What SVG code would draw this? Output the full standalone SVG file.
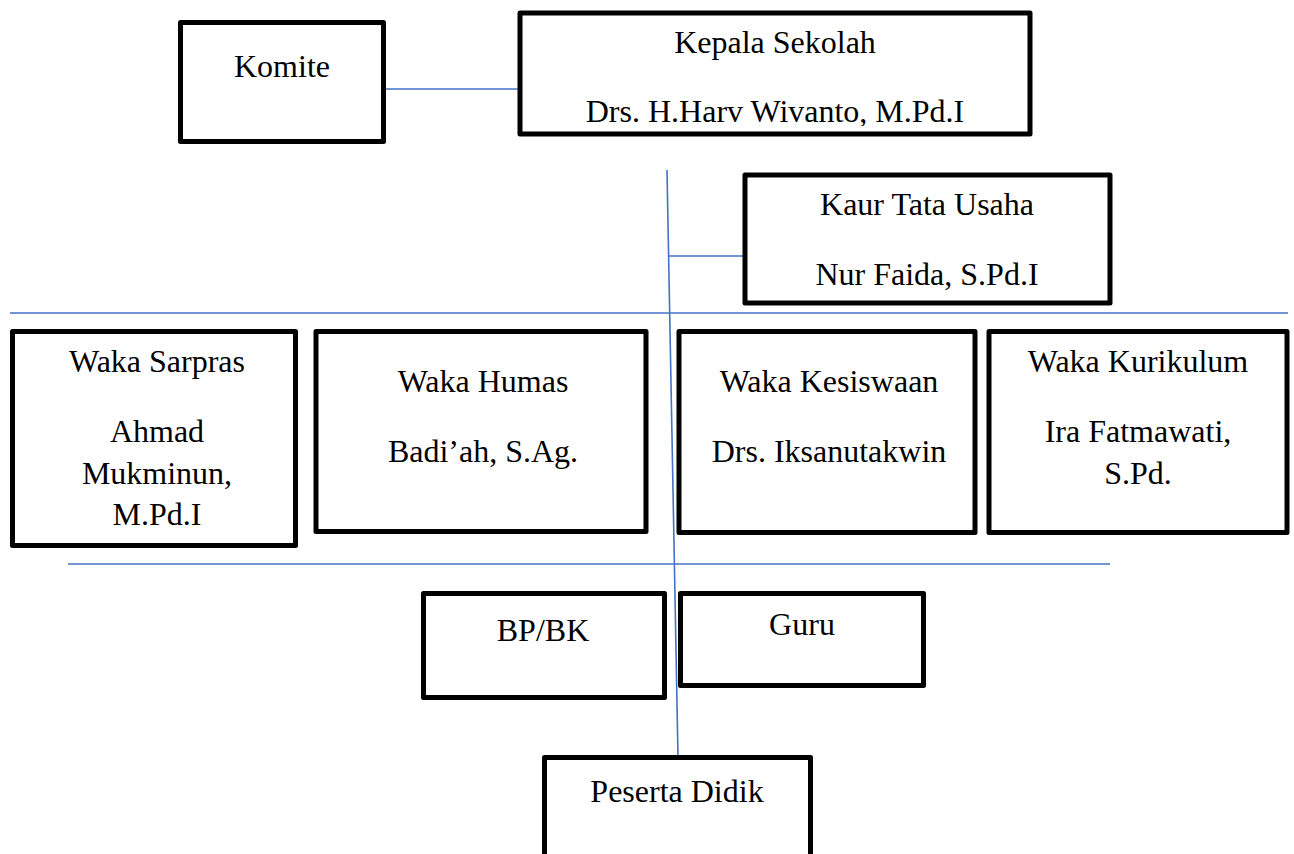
<svg xmlns="http://www.w3.org/2000/svg" width="1294" height="854" viewBox="0 0 1294 854">
<style>
.box{fill:#fff;stroke:#000;stroke-width:5;stroke-linejoin:round}
.t{font-family:"Liberation Serif","Times New Roman",serif;font-size:32px;fill:#000;text-anchor:middle}
.c{stroke:#4472C4;stroke-width:1.6;fill:none}
</style>
<defs>
<clipPath id="kclip"><rect x="522" y="15" width="506" height="111"/></clipPath>
</defs>
<rect width="1294" height="854" fill="#fff"/>
<g id="connectors">
<line class="c" x1="384" y1="89" x2="520" y2="89"/>
<line class="c" x1="667" y1="170" x2="678" y2="757"/>
<line class="c" x1="669" y1="256" x2="745" y2="256"/>
<line class="c" x1="10" y1="313" x2="1288" y2="313"/>
<line class="c" x1="68" y1="564" x2="1110" y2="564"/>
</g>
<g id="komite">
<rect class="box" x="180.5" y="22.5" width="203" height="119"/>
<text class="t" x="282" y="77">Komite</text>
</g>
<g id="kepala">
<rect class="box" x="520" y="13" width="510" height="121"/>
<text class="t" x="775" y="53">Kepala Sekolah</text>
<text class="t" x="775" y="122" clip-path="url(#kclip)">Drs. H.Harv Wivanto, M.Pd.I</text>
</g>
<g id="kaur">
<rect class="box" x="745" y="175" width="365" height="128"/>
<text class="t" x="927" y="215">Kaur Tata Usaha</text>
<text class="t" x="927" y="285">Nur Faida, S.Pd.I</text>
</g>
<g id="sarpras">
<rect class="box" x="12.5" y="331.5" width="283" height="214"/>
<text class="t" x="157" y="372">Waka Sarpras</text>
<text class="t" x="157" y="442">Ahmad</text>
<text class="t" x="157" y="484">Mukminun,</text>
<text class="t" x="157" y="525">M.Pd.I</text>
</g>
<g id="humas">
<rect class="box" x="316" y="331.5" width="330" height="200"/>
<text class="t" x="483" y="392">Waka Humas</text>
<text class="t" x="483" y="462">Badi’ah, S.Ag.</text>
</g>
<g id="kesiswaan">
<rect class="box" x="679" y="331.5" width="296" height="201"/>
<text class="t" x="829" y="392">Waka Kesiswaan</text>
<text class="t" x="829" y="462">Drs. Iksanutakwin</text>
</g>
<g id="kurikulum">
<rect class="box" x="989" y="331.5" width="298" height="201"/>
<text class="t" x="1138" y="372">Waka Kurikulum</text>
<text class="t" x="1138" y="442">Ira Fatmawati,</text>
<text class="t" x="1138" y="484">S.Pd.</text>
</g>
<g id="bpbk">
<rect class="box" x="423.5" y="593.5" width="241" height="104"/>
<text class="t" x="543" y="641">BP/BK</text>
</g>
<g id="guru">
<rect class="box" x="680.5" y="593.5" width="243" height="92"/>
<text class="t" x="802" y="635">Guru</text>
</g>
<g id="peserta">
<rect class="box" x="544.5" y="757.5" width="266" height="120"/>
<text class="t" x="677" y="802">Peserta Didik</text>
</g>
</svg>
